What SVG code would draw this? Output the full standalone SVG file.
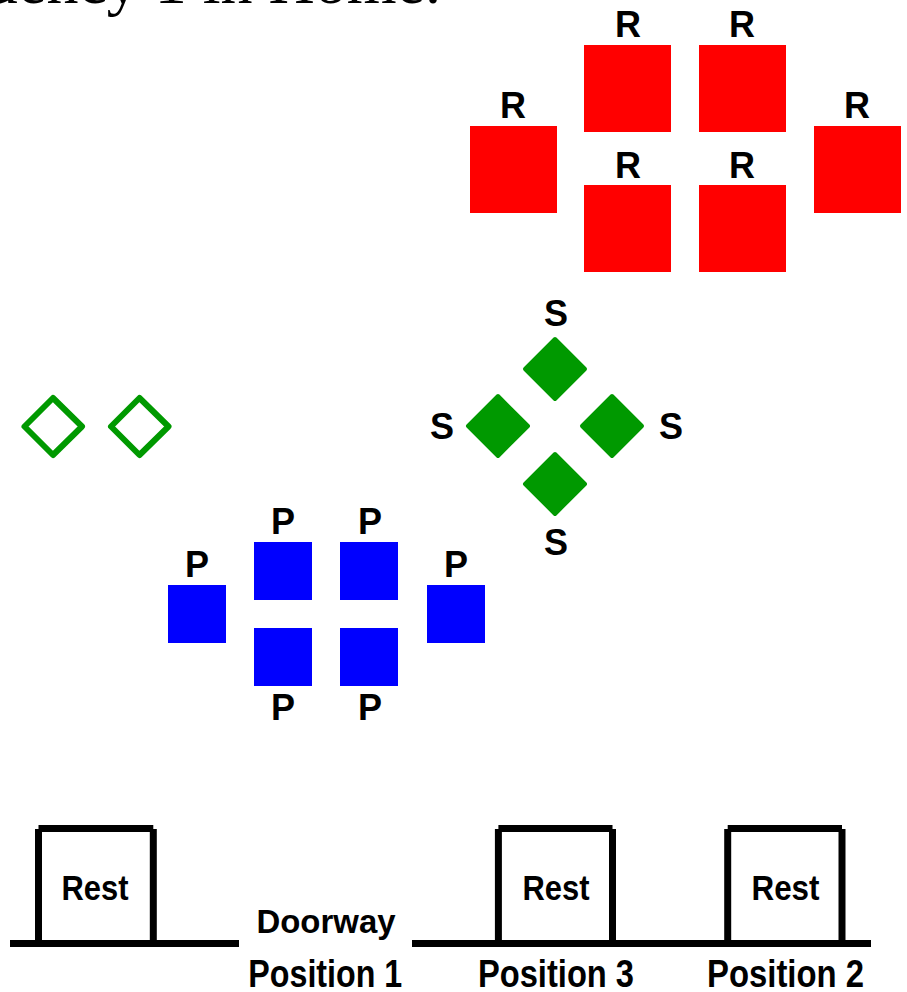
<svg xmlns="http://www.w3.org/2000/svg" width="907" height="992" viewBox="0 0 907 992">
<style>
.lbl{font-family:"Liberation Sans",Arial,sans-serif;font-weight:bold;font-size:36px;fill:#000;text-anchor:middle}
.red{fill:#ff0000}
.blue{fill:#0000ff}
.gfill{fill:#009900;stroke:#009900;stroke-width:4;stroke-linejoin:round}
.gout{fill:none;stroke:#009900;stroke-width:6;stroke-linejoin:round}
.ln{stroke:#000;stroke-width:7;fill:none}
.rest{font-family:"Liberation Sans",Arial,sans-serif;font-weight:bold;font-size:35px;fill:#000;text-anchor:middle}
.pos{font-family:"Liberation Sans",Arial,sans-serif;font-weight:bold;font-size:38px;fill:#000;text-anchor:middle}
.title{font-family:"Liberation Serif","Times New Roman",serif;font-size:64px;fill:#000;text-anchor:end}
</style>
<rect width="907" height="992" fill="#fff"/>
<text class="title" x="441" y="3">Frequency 1 in Home.</text>

<g id="red-nodes">
  <g id="R1"><rect class="red" x="470" y="126" width="87" height="87"/><text class="lbl" x="513" y="118">R</text></g>
  <g id="R2"><rect class="red" x="584" y="45" width="87" height="87"/><text class="lbl" x="628" y="37">R</text></g>
  <g id="R3"><rect class="red" x="699" y="45" width="87" height="87"/><text class="lbl" x="742" y="37">R</text></g>
  <g id="R4"><rect class="red" x="584" y="185" width="87" height="87"/><text class="lbl" x="628" y="178">R</text></g>
  <g id="R5"><rect class="red" x="699" y="185" width="87" height="87"/><text class="lbl" x="742" y="178">R</text></g>
  <g id="R6"><rect class="red" x="814" y="126" width="87" height="87"/><text class="lbl" x="857" y="118">R</text></g>
</g>

<g id="green-nodes">
  <g id="S1"><polygon class="gfill" points="555,339 585,369 555,399 525,369"/><text class="lbl" x="556" y="326">S</text></g>
  <g id="S2"><polygon class="gfill" points="498,396 528,426 498,456 468,426"/><text class="lbl" x="442" y="439">S</text></g>
  <g id="S3"><polygon class="gfill" points="612,396 642,426 612,456 582,426"/><text class="lbl" x="671" y="439">S</text></g>
  <g id="S4"><polygon class="gfill" points="555,454 585,484 555,514 525,484"/><text class="lbl" x="556" y="555">S</text></g>
</g>

<g id="open-diamonds">
  <g id="D1"><polygon class="gout" points="53,398 82,426.5 53,455 24.5,426.5"/></g>
  <g id="D2"><polygon class="gout" points="139.5,398 168.5,426.5 139.5,455 111,426.5"/></g>
</g>

<g id="blue-nodes">
  <g id="P1"><rect class="blue" x="168" y="585" width="58" height="58"/><text class="lbl" x="197" y="577">P</text></g>
  <g id="P2"><rect class="blue" x="254" y="542" width="58" height="58"/><text class="lbl" x="283" y="534">P</text></g>
  <g id="P3"><rect class="blue" x="340" y="542" width="58" height="58"/><text class="lbl" x="370" y="534">P</text></g>
  <g id="P4"><rect class="blue" x="254" y="628" width="58" height="58"/><text class="lbl" x="283" y="720">P</text></g>
  <g id="P5"><rect class="blue" x="340" y="628" width="58" height="58"/><text class="lbl" x="370" y="720">P</text></g>
  <g id="P6"><rect class="blue" x="427" y="585" width="58" height="58"/><text class="lbl" x="456" y="577">P</text></g>
</g>

<g id="floor">
  <line class="ln" x1="10" y1="943.5" x2="239" y2="943.5"/>
  <line class="ln" x1="412" y1="943.5" x2="871" y2="943.5"/>
</g>

<g id="door1">
  <line class="ln" x1="38.5" y1="828.5" x2="153.3" y2="828.5"/>
  <line class="ln" x1="38.5" y1="829" x2="38.5" y2="943"/>
  <line class="ln" x1="153.3" y1="829" x2="153.3" y2="943"/>
  <text class="rest" x="95" y="900" textLength="67" lengthAdjust="spacingAndGlyphs">Rest</text>
</g>
<g id="door2">
  <line class="ln" x1="498.4" y1="828.5" x2="612.5" y2="828.5"/>
  <line class="ln" x1="498.4" y1="829" x2="498.4" y2="943"/>
  <line class="ln" x1="612.5" y1="829" x2="612.5" y2="943"/>
  <text class="rest" x="556" y="900" textLength="67" lengthAdjust="spacingAndGlyphs">Rest</text>
</g>
<g id="door3">
  <line class="ln" x1="727.7" y1="828.5" x2="842" y2="828.5"/>
  <line class="ln" x1="727.7" y1="829" x2="727.7" y2="943"/>
  <line class="ln" x1="842" y1="829" x2="842" y2="943"/>
  <text class="rest" x="785.5" y="900" textLength="68" lengthAdjust="spacingAndGlyphs">Rest</text>
</g>

<g id="labels">
  <text class="pos" x="326" y="933" style="font-size:33px" textLength="139" lengthAdjust="spacingAndGlyphs">Doorway</text>
  <text class="pos" x="325.3" y="987" textLength="154" lengthAdjust="spacingAndGlyphs">Position 1</text>
  <text class="pos" x="556" y="987" textLength="156" lengthAdjust="spacingAndGlyphs">Position 3</text>
  <text class="pos" x="785.5" y="987" textLength="157" lengthAdjust="spacingAndGlyphs">Position 2</text>
</g>
</svg>
